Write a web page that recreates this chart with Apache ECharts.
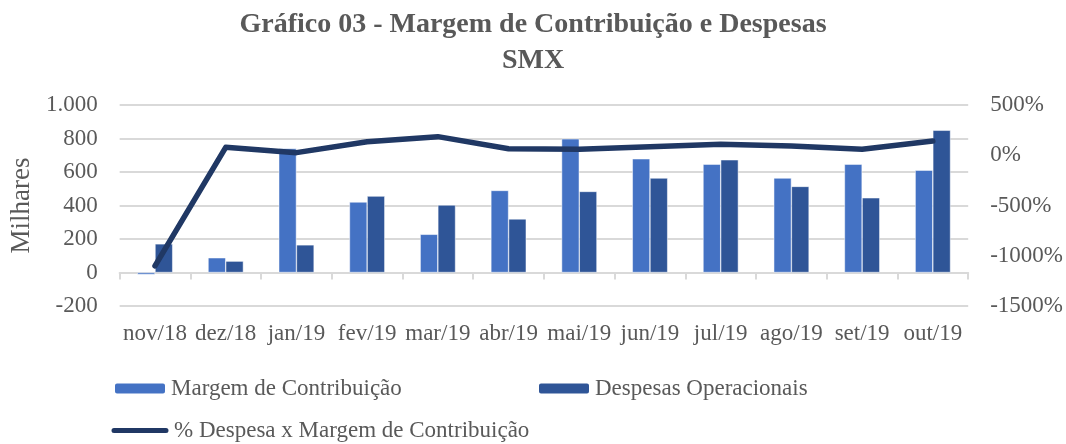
<!DOCTYPE html>
<html lang="pt">
<head>
    <meta charset="UTF-8">
    <title>Gráfico 03 - SMX</title>
    <script src="https://cdn.jsdelivr.net/npm/echarts@6/dist/echarts.min.js"></script>
    <style>
        html, body { margin: 0; padding: 0; background: #fff; }
        #main { width: 1066px; height: 444px; }
    </style>
</head>
<body>
<div id="main"></div>
<script>
    // dados (valores em milhares / %)
    var meses = ['nov/18', 'dez/18', 'jan/19', 'fev/19', 'mar/19', 'abr/19', 'mai/19', 'jun/19', 'jul/19', 'ago/19', 'set/19', 'out/19'];
    var margemContribuicao = [-12, 88, 740, 421, 228, 490, 798, 679, 647, 564, 647, 611];
    var despesasOperacionais = [171, 68, 165, 456, 403, 320, 484, 564, 673, 514, 446, 849];
    var percDespesa = [-1100, 79, 26, 135, 185, 65, 59, 85, 109, 92, 59, 142];

    var fonte = 'Liberation Serif';
    var cinza = '#595959';

    var myChart = echarts.init(document.getElementById('main'));

    option = {
        animation: false,
        title: {
            text: 'Gráfico 03 - Margem de Contribuição e Despesas\nSMX',
            left: 'center',
            top: 2,
            textStyle: { fontFamily: fonte, fontSize: 28, fontWeight: 'bold', color: cinza, lineHeight: 36 }
        },
        grid: { left: 115, right: 96, top: 105, bottom: 138 },
        legend: [
            {
                data: ['Margem de Contribuição'],
                left: 108, top: 372,
                itemWidth: 52, itemHeight: 12,
                textStyle: { fontFamily: fonte, fontSize: 23, color: cinza }
            },
            {
                data: ['Despesas Operacionais'],
                left: 532, top: 372,
                itemWidth: 52, itemHeight: 12,
                textStyle: { fontFamily: fonte, fontSize: 23, color: cinza }
            },
            {
                data: ['% Despesa x Margem de Contribuição'],
                left: 106, top: 414,
                itemWidth: 58, itemHeight: 12,
                icon: 'path://M3,3.5 L55,3.5 A2.5,2.5 0 0 1 55,8.5 L3,8.5 A2.5,2.5 0 0 1 3,3.5 Z M0,0 L0,0.01 M58,12 L58,11.99',
                textStyle: { fontFamily: fonte, fontSize: 23, color: cinza }
            }
        ],
        xAxis: [
            {
                type: 'category',
                data: meses,
                position: 'bottom',
                axisLine: { show: false },
                axisTick: { show: false },
                axisLabel: { interval: 0, hideOverlap: false, margin: 16, fontFamily: fonte, fontSize: 23, color: cinza }
            },
            {
                type: 'category',
                data: meses,
                position: 'bottom',
                axisLine: { show: true, onZero: true, onZeroAxisIndex: 0, lineStyle: { color: '#d9d9d9', width: 2 } },
                axisTick: { show: true, length: 7, lineStyle: { color: '#d9d9d9', width: 2 } },
                axisLabel: { show: false }
            }
        ],
        yAxis: [
            {
                type: 'value',
                min: -200, max: 1000, interval: 200,
                name: 'Milhares',
                nameLocation: 'middle',
                nameRotate: 90,
                nameGap: 78,
                nameTextStyle: { fontFamily: fonte, fontSize: 27, color: cinza },
                axisLine: { show: false },
                axisTick: { show: false },
                splitLine: { lineStyle: { color: '#d9d9d9', width: 2 } },
                axisLabel: {
                    margin: 22, fontFamily: fonte, fontSize: 23, color: cinza,
                    formatter: function (v) { return v === 1000 ? '1.000' : String(v); }
                }
            },
            {
                type: 'value',
                min: -1500, max: 500, interval: 500,
                axisLine: { show: false },
                axisTick: { show: false },
                splitLine: { show: false },
                axisLabel: {
                    margin: 22, fontFamily: fonte, fontSize: 23, color: cinza,
                    formatter: function (v) { return v + '%'; }
                }
            }
        ],
        series: [
            {
                name: 'Margem de Contribuição',
                type: 'bar',
                data: margemContribuicao,
                barGap: '0%',
                barCategoryGap: '50%',
                itemStyle: { color: '#4472C4', borderColor: '#ffffff', borderWidth: 0.5 }
            },
            {
                name: 'Despesas Operacionais',
                type: 'bar',
                data: despesasOperacionais,
                itemStyle: { color: '#2F5597', borderColor: '#ffffff', borderWidth: 0.5 }
            },
            {
                name: '% Despesa x Margem de Contribuição',
                type: 'line',
                yAxisIndex: 1,
                data: percDespesa,
                symbol: 'none',
                z: 5,
                itemStyle: { color: '#203864' },
                lineStyle: { color: '#203864', width: 5.5, cap: 'round', join: 'round' }
            }
        ]
    };

    myChart.setOption(option);
</script>
</body>
</html>
